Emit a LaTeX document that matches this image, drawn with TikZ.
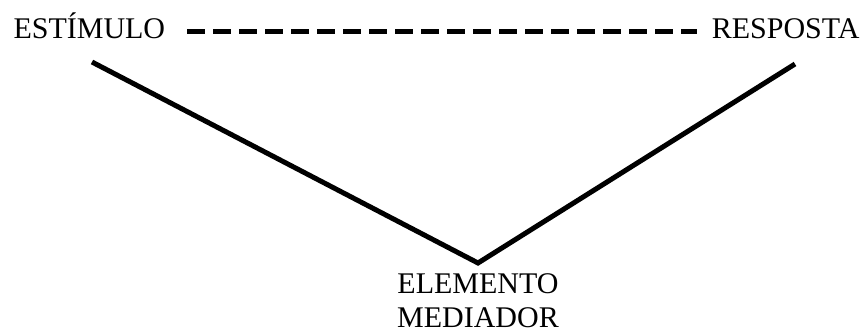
\documentclass[tikz,border=0pt]{standalone}
\usepackage{fontspec}
\setmainfont{Liberation Serif}
\usetikzlibrary{positioning}

\begin{document}
\begin{tikzpicture}[x=1pt, y=-1pt, line width=5pt,
        label/.style = {inner sep=0pt, font=\fontsize{30}{34}\selectfont},
        link/.style = {draw, line width=5pt},
        hint/.style = {draw, line width=5pt, dash pattern=on 18pt off 8pt}]

        \useasboundingbox (0,0) rectangle (868,335);

        % Terms
        \node[label, anchor=base west] (estimulo) at (11, 38) {ESTÍMULO};
        \node[label, anchor=base east] (resposta) at (862, 38) {RESPOSTA};
        \node[label, align=center, anchor=base] (mediador) at (478, 327) {ELEMENTO\\MEDIADOR};

        % Line ends
        \coordinate (a) at (92, 62);
        \coordinate (v) at (478, 263);
        \coordinate (b) at (795, 64);
        \coordinate (d1) at (187, 31);
        \coordinate (d2) at (697, 31);

        \draw[hint] (d1) -- (d2);
        \draw[link] (a) -- (v) -- (b);
    \end{tikzpicture}
\end{document}
